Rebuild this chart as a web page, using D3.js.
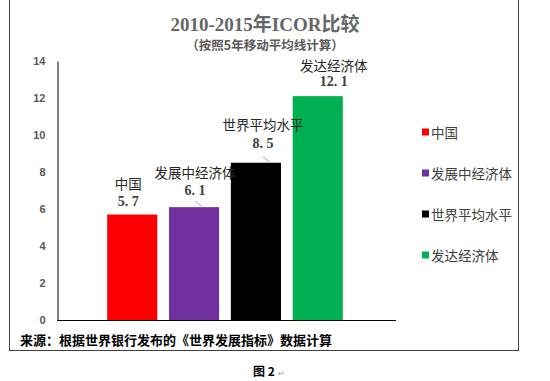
<!DOCTYPE html>
<html><head><meta charset="utf-8">
<script src="https://cdn.jsdelivr.net/npm/d3@7/dist/d3.min.js"></script>
<style>body{margin:0;background:#fff}svg{display:block}</style>
</head><body>
<svg id="c" width="550" height="381"></svg>
<script>
const categories = ["中国", "发展中经济体", "世界平均水平", "发达经济体"];
const values = [5.7, 6.1, 8.5, 12.1];
const colors = ["#ff0000", "#7030a0", "#000000", "#00b050"];
const yTicks = [0, 2, 4, 6, 8, 10, 12, 14];
const valueLabels = ["5. 7", "6. 1", "8. 5", "12. 1"];

const svg = d3.select("#c");
const cjk = "'Noto Sans CJK SC', sans-serif";
const serif = "'Liberation Serif', 'Noto Sans CJK SC', serif";

// frame
svg.append("rect").attr("x", 9.5).attr("y", -5).attr("width", 509).attr("height", 355.5)
  .attr("fill", "none").attr("stroke", "#404040").attr("stroke-width", 1);

const y = d3.scaleLinear().domain([0, 14]).range([320, 61]);
const x = d3.scaleBand().domain(categories).range([101, 349]).paddingInner(0.19).paddingOuter(0.1);

// title
svg.append("text").attr("x", 265).attr("y", 31).attr("text-anchor", "middle")
  .attr("font-family", serif).attr("font-size", 19).attr("font-weight", "bold").attr("fill", "#666")
  .text("2010-2015年ICOR比较");
svg.append("text").attr("x", 265).attr("y", 50).attr("text-anchor", "middle")
  .attr("font-family", cjk).attr("font-size", 12.5).attr("font-weight", "bold").attr("fill", "#595959")
  .text("（按照5年移动平均线计算）");

// y axis
const yAxis = d3.axisLeft(y).tickValues(yTicks).tickSize(0).tickPadding(12);
const ga = svg.append("g").attr("transform", "translate(57.5,0)").call(yAxis);
ga.select(".domain").attr("stroke", "#000");
ga.selectAll("text").attr("font-family", "'Liberation Sans', Arial, sans-serif")
  .attr("font-size", 11).attr("font-weight", "bold").attr("fill", "#595959");

// x axis line
svg.append("line").attr("x1", 57).attr("x2", 396).attr("y1", y(0) + 0.5).attr("y2", y(0) + 0.5)
  .attr("stroke", "#000");

// bars
svg.selectAll("rect.bar").data(categories).enter().append("rect").attr("class", "bar")
  .attr("x", d => x(d)).attr("width", x.bandwidth())
  .attr("y", (d, i) => y(values[i])).attr("height", (d, i) => y(0) - y(values[i]))
  .attr("fill", (d, i) => colors[i]);

// data labels
const nameOff = [-26, -29, -33, -25];
const valOff = [-9, -12, -15, -10];
categories.forEach((c, i) => {
  const cx = x(c) + x.bandwidth() / 2 + [-4, 1, 7, 16][i];
  const top = y(values[i]);
  svg.append("text").attr("x", cx).attr("y", top + nameOff[i]).attr("text-anchor", "middle")
    .attr("font-family", cjk).attr("font-size", 13.5).attr("fill", "#262626").text(c);
  svg.append("text").attr("x", cx).attr("y", top + valOff[i]).attr("text-anchor", "middle")
    .attr("font-family", serif).attr("font-size", 14).attr("font-weight", "bold").attr("fill", "#404040").text(valueLabels[i]);
  if (i === 1 || i === 2) {
    svg.append("line").attr("x1", cx).attr("y1", top - 6).attr("x2", cx + 7).attr("y2", top - 0.5)
      .attr("stroke", "#a6a6a6").attr("stroke-width", 1);
  }
});

// legend
categories.forEach((c, i) => {
  const ly = 132 + i * 41;
  svg.append("rect").attr("x", 422).attr("y", ly - 3.5).attr("width", 7).attr("height", 7).attr("fill", colors[i]);
  svg.append("text").attr("x", 431).attr("y", ly).attr("dominant-baseline", "central")
    .attr("font-family", cjk).attr("font-size", 13.5).attr("fill", "#404040").text(c);
});

// source
svg.append("text").attr("x", 20).attr("y", 345)
  .attr("font-family", cjk).attr("font-size", 13).attr("font-weight", "bold").attr("fill", "#000")
  .text("来源：根据世界银行发布的《世界发展指标》数据计算");

// figure caption
svg.append("text").attr("x", 253).attr("y", 376)
  .attr("font-family", cjk).attr("font-size", 12).attr("font-weight", "bold").attr("fill", "#000")
  .text("图 2");
svg.append("text").attr("x", 278).attr("y", 376)
  .attr("font-family", cjk).attr("font-size", 8).attr("fill", "#999").text("↵");
</script>
</body></html>
